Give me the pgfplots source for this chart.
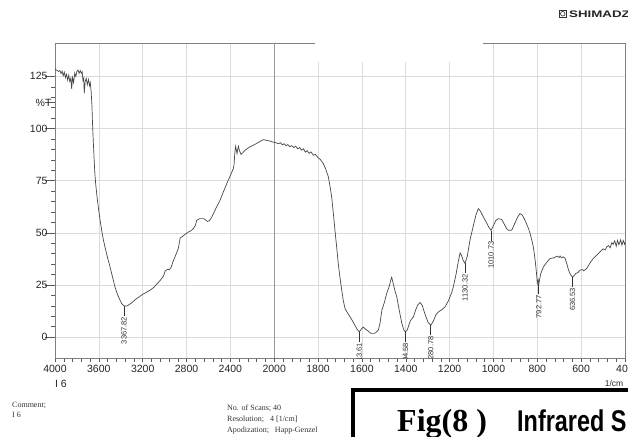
\documentclass[border=0pt]{standalone}
\usepackage{pgfplots}
\pgfplotsset{compat=1.18}
\usepackage{pgfplotstable}
\usepackage{fontspec}
\usepackage{graphicx}
\setmainfont{Liberation Sans}
\newfontfamily\timesf{Liberation Serif}

\pgfplotstableread{
w T
4000 128.5
3985 128.0
3970 127.4
3955 127.8
3945 126.4
3935 127.5
3925 125.3
3915 127.0
3905 124.4
3895 126.0
3885 123.2
3875 125.5
3865 122.5
3855 124.2
3848 119.0
3840 124.5
3830 122.0
3820 126.5
3810 125.0
3800 127.5
3790 128.0
3780 126.4
3770 127.8
3760 126.5
3752 127.2
3745 123.0
3738 124.0
3733 116.9
3725 122.5
3715 124.0
3705 121.0
3695 123.5
3685 120.5
3678 122.0
3670 117.5
3663 111.0
3658 103.0
3652 95.5
3644 86.3
3637 79.0
3629 73.6
3617 67.5
3605 62.4
3590 56.5
3574 51.2
3560 47.0
3544 43.2
3520 38.0
3498 33.7
3475 28.8
3453 24.1
3430 20.5
3407 17.7
3390 16.0
3370 15.0
3350 14.9
3331 15.3
3300 16.5
3255 18.5
3200 20.5
3133 22.5
3100 23.8
3072 25.4
3040 27.2
3010 29.3
2996 31.6
2975 32.5
2957 32.4
2940 33.5
2925 36.0
2905 38.5
2890 40.5
2875 42.5
2858 47.5
2844 48.0
2815 49.2
2784 50.4
2760 51.0
2738 52.0
2720 53.5
2707 56.0
2680 56.8
2661 56.8
2645 56.8
2631 56.4
2610 55.5
2592 55.8
2570 57.5
2555 59.2
2525 62.5
2494 65.6
2465 69.5
2433 73.6
2400 77.5
2373 80.8
2366 83.0
2360 88.0
2352 91.5
2345 89.5
2339 88.0
2333 90.0
2327 91.5
2318 89.5
2303 87.6
2285 88.5
2266 89.6
2230 91.0
2190 92.0
2150 93.2
2099 94.7
2060 94.2
2038 94.0
2020 93.6
2000 93.4
1990 93.1
1980 92.7
1972 93.2
1963 92.2
1955 92.7
1946 91.8
1938 92.3
1929 91.3
1920 91.8
1911 90.9
1902 91.5
1893 90.3
1884 90.9
1875 89.6
1867 90.3
1858 88.7
1850 89.4
1841 88.1
1832 88.8
1822 87.2
1812 87.6
1800 86.0
1790 85.2
1776 83.2
1765 80.5
1753 76.8
1745 72.0
1738 67.2
1730 59.0
1723 51.2
1715 43.0
1708 35.3
1700 28.5
1692 22.5
1685 17.5
1677 13.7
1665 11.5
1654 9.7
1643 7.8
1632 5.7
1622 3.8
1612 2.5
1603 3.8
1594 4.8
1583 3.8
1571 2.9
1562 2.0
1555 1.8
1545 1.8
1536 2.2
1525 3.4
1517 7.0
1509 12.9
1498 16.5
1487 20.9
1475 24.5
1468 27.5
1464 28.7
1458 26.0
1450 22.5
1441 19.3
1430 13.0
1418 6.6
1408 3.2
1401 2.5
1393 3.5
1382 7.0
1375 8.5
1365 9.7
1355 13.0
1345 15.5
1334 16.6
1325 15.2
1312 11.0
1298 7.0
1286 5.7
1275 7.5
1262 10.8
1251 12.1
1235 13.2
1221 14.5
1205 17.5
1190 21.5
1183 24.1
1170 30.5
1160 36.5
1152 40.4
1145 39.0
1137 36.5
1130 35.4
1120 38.5
1107 46.5
1095 52.0
1080 58.5
1069 61.6
1060 60.5
1046 57.6
1030 54.5
1020 52.5
1011 51.2
1000 53.5
990 55.8
978 56.8
970 56.6
962 56.4
950 54.0
940 52.0
932 51.2
917 51.2
905 54.0
890 57.5
879 59.2
868 58.5
856 56.0
848 54.0
840 52.0
833 49.7
825 46.5
818 43.2
810 37.0
804 31.0
800 25.7
796 27.5
793 25.4
789 28.0
784 30.5
772 33.7
760 35.5
742 37.7
725 38.0
710 38.8
700 38.2
696 38.9
690 38.0
682 38.5
673 37.7
665 35.0
657 32.0
651 30.5
645 29.5
639 28.9
632 29.5
625 30.5
614 31.0
605 32.1
595 32.4
588 31.8
575 32.9
560 35.5
545 37.7
530 39.2
514 40.9
500 42.3
490 41.8
484 43.2
475 43.9
468 42.8
460 45.3
454 44.5
447 46.2
440 43.6
434 46.4
428 44.3
420 46.6
414 44.1
408 46.3
402 44.6
400 45.4
}\spectrum

\pgfplotstableread{
w T lab
3370 15.0 3367.82
1612 2.5 1613.61
1401 2.5 1404.58
1286 5.7 1280.78
1130 35.4 1130.32
1011 51.2 1010.73
793 25.4 792.77
639 28.9 636.53
}\peaks

\begin{document}
\begin{tikzpicture}[x=1pt,y=1pt]
\useasboundingbox (0,0) rectangle (628,436);
\fill[white] (0,0) rectangle (628,436);
\begin{axis}[
  at={(55pt,78pt)}, anchor=south west,
  scale only axis, width=570pt, height=315pt,
  xmin=400, xmax=3000, ymin=-10, ymax=141,
  x dir=reverse,
  clip mode=individual, clip marker paths=true,
  axis line style={black!50, line width=0.6pt},
  xtick={400,600,...,3000},
  xticklabels={400,600,800,1000,1200,1400,1600,1800,2000,2400,2800,3200,3600,4000},
  ytick={0,25,...,125},
  minor x tick num=4, minor y tick num=4,
  tick align=outside,
  xtick pos=bottom, ytick pos=left,
  major tick length=4pt, minor tick length=3.5pt,
  y tick style={/pgfplots/major tick length=10pt},
  tick style={black!65, line width=0.5pt},
  grid=major,
  major grid style={black!14, line width=0.6pt},
  extra x ticks={2000}, extra x tick labels={},
  extra x tick style={major grid style={black!40, line width=0.7pt}},
  extra y ticks={112.5}, extra y tick labels={\%T},
  extra y tick style={grid=none, major tick length=0pt},
  tick label style={font=\fontsize{10.5}{12}\selectfont, text=black!85},
  /pgf/number format/assume math mode=true,
]
\addplot[color=black!72, line width=0.7pt]
  table[x expr={\thisrow{w}>2000 ? 1000+\thisrow{w}/2 : \thisrow{w}}, y=T]{\spectrum};
\addplot[draw=none, mark=none, point meta=explicit symbolic,
  nodes near coords={\pgfplotspointmeta\hspace{1pt}\rule[2.45pt]{10pt}{0.5pt}\hspace{4pt}},
  every node near coord/.append style={rotate=90, anchor=east, inner sep=0pt,
     font=\fontsize{7.5}{8}\selectfont, text=black!80}]
  table[x expr={\thisrow{w}>2000 ? 1000+\thisrow{w}/2 : \thisrow{w}}, y=T, meta=lab]{\peaks};
\end{axis}
% redaction patch
\fill[white] (315,374) rectangle (483,423);
% logo
\draw[black!80, line width=0.8pt] (559,418.5) rectangle (566.5,426);
\draw[black!80, line width=0.6pt] (562.75,422.25) circle (2.3);
\node[anchor=west, inner sep=0pt, text=black!85] at (569,422)
  {\scalebox{1.4}[1]{\fontsize{9.5}{10}\selectfont\bfseries SHIMADZU}};
% under-axis texts
\node[inner sep=0pt, font=\fontsize{10.5}{12}\selectfont, text=black!85] at (61,52) {I 6};
\node[inner sep=0pt, font=\fontsize{8.5}{9}\selectfont, text=black!85] at (614,53) {1/cm};
\node[anchor=base west, inner sep=0pt, font=\timesf\fontsize{8}{9}\selectfont, text=black!80] at (12,29) {Comment;};
\node[anchor=base west, inner sep=0pt, font=\timesf\fontsize{8}{9}\selectfont, text=black!80] at (12,19) {I 6};
\node[anchor=base west, inner sep=0pt, font=\timesf\fontsize{8}{9}\selectfont, text=black!80] at (227,26) {No. of Scans; 40};
\node[anchor=base west, inner sep=0pt, font=\timesf\fontsize{8}{9}\selectfont, text=black!80] at (227,15) {Resolution;\hspace{6pt}4 [1/cm]};
\node[anchor=base west, inner sep=0pt, font=\timesf\fontsize{8}{9}\selectfont, text=black!80] at (227,4) {Apodization;\hspace{6pt}Happ-Genzel};
% figure caption box
\draw[black, line width=4pt, fill=white] (353,-10) rectangle (700,46);
\node[anchor=base west, inner sep=0pt] at (397,4.3)
  {\timesf\fontsize{32}{34}\selectfont\bfseries Fig(8 )};
\node[anchor=base west, inner sep=0pt] at (517,4.3)
  {\scalebox{0.78}[1]{\fontsize{30}{32}\selectfont\bfseries Infrared S}};
\end{tikzpicture}
\end{document}
